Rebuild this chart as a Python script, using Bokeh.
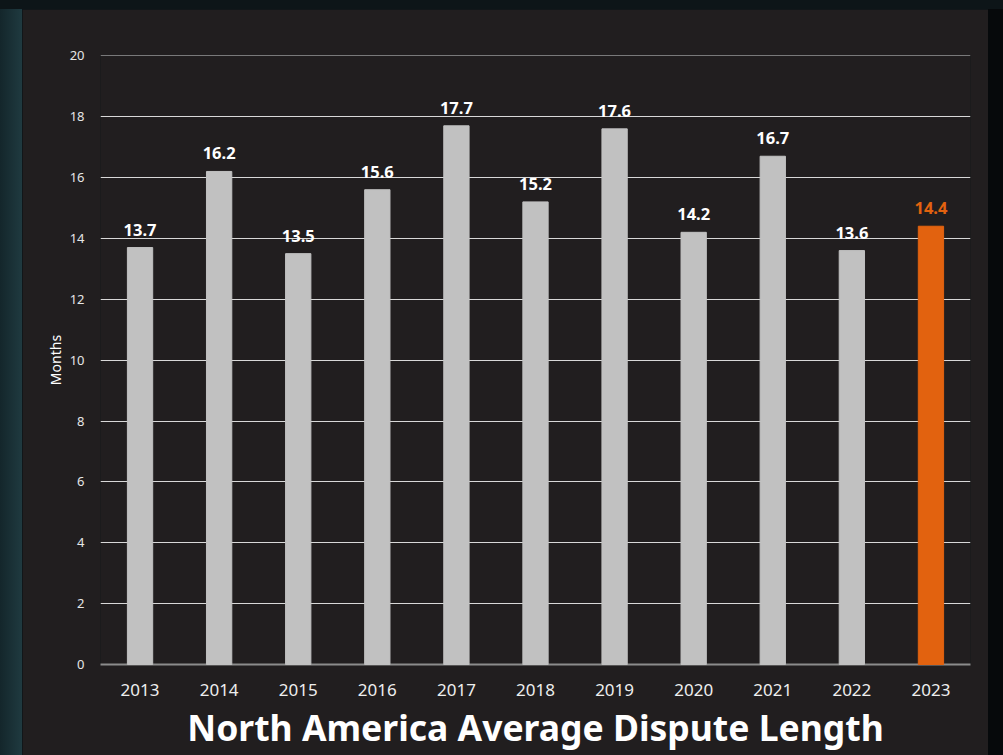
from bokeh.plotting import figure
from bokeh.models import ColumnDataSource, Div, LabelSet, Range1d, FixedTicker
from bokeh.core.properties import value
from bokeh.layouts import row, column
from bokeh.embed import file_html
from bokeh.resources import INLINE

years = ["2013", "2014", "2015", "2016", "2017", "2018", "2019", "2020", "2021", "2022", "2023"]
months = [13.7, 16.2, 13.5, 15.6, 17.7, 15.2, 17.6, 14.2, 16.7, 13.6, 14.4]
labels = ["13.7", "16.2", "13.5", "15.6", "17.7", "15.2", "17.6", "14.2", "16.7", "13.6", "14.4"]
y_ticks = [0, 2, 4, 6, 8, 10, 12, 14, 16, 18, 20]

GREY = "#c1c1c1"
ORANGE = "#e2620f"
PANEL = "#211e1f"
FONT = "Noto Sans"

colors = [GREY] * (len(years) - 1) + [ORANGE]
label_colors = ["#ffffff"] * (len(years) - 1) + [ORANGE]
src = ColumnDataSource(dict(x=years, y=months, c=colors, lab=labels, lc=label_colors))

p = figure(x_range=years, y_range=Range1d(0, 20.01), width=966, height=746,
           output_backend="svg", toolbar_location=None,
           min_border_left=78, min_border_right=18, min_border_top=46, min_border_bottom=91,
           background_fill_color=PANEL, border_fill_color=PANEL, outline_line_color=None,
           margin=0)

p.vbar(x="x", top="y", width=0.32, color="c", source=src, level="overlay")

p.add_layout(LabelSet(x="x", y="y", text="lab", source=src, text_color="lc",
                      text_font=value(FONT), text_font_style="bold", text_font_size="16.5px",
                      text_align="center", text_baseline="alphabetic", y_offset=12, level="overlay"))

p.xgrid.grid_line_color = None
p.ygrid.grid_line_color = "#d8d8d8"
p.ygrid.grid_line_width = 1.2
p.yaxis.ticker = FixedTicker(ticks=y_ticks)

p.yaxis.axis_line_color = None
p.yaxis.major_tick_line_color = None
p.yaxis.minor_tick_line_color = None
p.yaxis.major_label_text_color = "#e6e6e6"
p.yaxis.major_label_text_font = FONT
p.yaxis.major_label_text_font_size = "13px"
p.yaxis.major_label_standoff = 10
p.yaxis.axis_label = "Months"
p.yaxis.axis_label_text_color = "#ffffff"
p.yaxis.axis_label_text_font = FONT
p.yaxis.axis_label_text_font_style = "normal"
p.yaxis.axis_label_text_font_size = "14px"
p.yaxis.axis_label_standoff = 2

p.xaxis.axis_line_color = "#8c8c8c"
p.xaxis.axis_line_width = 2
p.xaxis.major_tick_line_color = None
p.xaxis.minor_tick_line_color = None
p.xaxis.major_label_text_color = "#eeeeee"
p.xaxis.major_label_text_font = FONT
p.xaxis.major_label_text_font_size = "17px"
p.xaxis.major_label_standoff = 13
p.xaxis.axis_label = "North America Average Dispute Length"
p.xaxis.axis_label_text_color = "#ffffff"
p.xaxis.axis_label_text_font = FONT
p.xaxis.axis_label_text_font_style = "bold"
p.xaxis.axis_label_text_font_size = "35.5px"
p.xaxis.axis_label_standoff = 4

top = Div(width=1003, height=9, margin=0, styles={"background-color": "#0d1518"})
left = Div(width=22, height=746, margin=0,
           styles={"background": "linear-gradient(90deg, #14262b, #1f3a40)"})
right = Div(width=15, height=746, margin=0, styles={"background-color": "#06090b"})
layout = column(top, row(left, p, right, spacing=0, margin=0), spacing=0, margin=0,
                styles={"background-color": "#0d1518"})

open("out.html", "w").write(file_html(layout, INLINE))
